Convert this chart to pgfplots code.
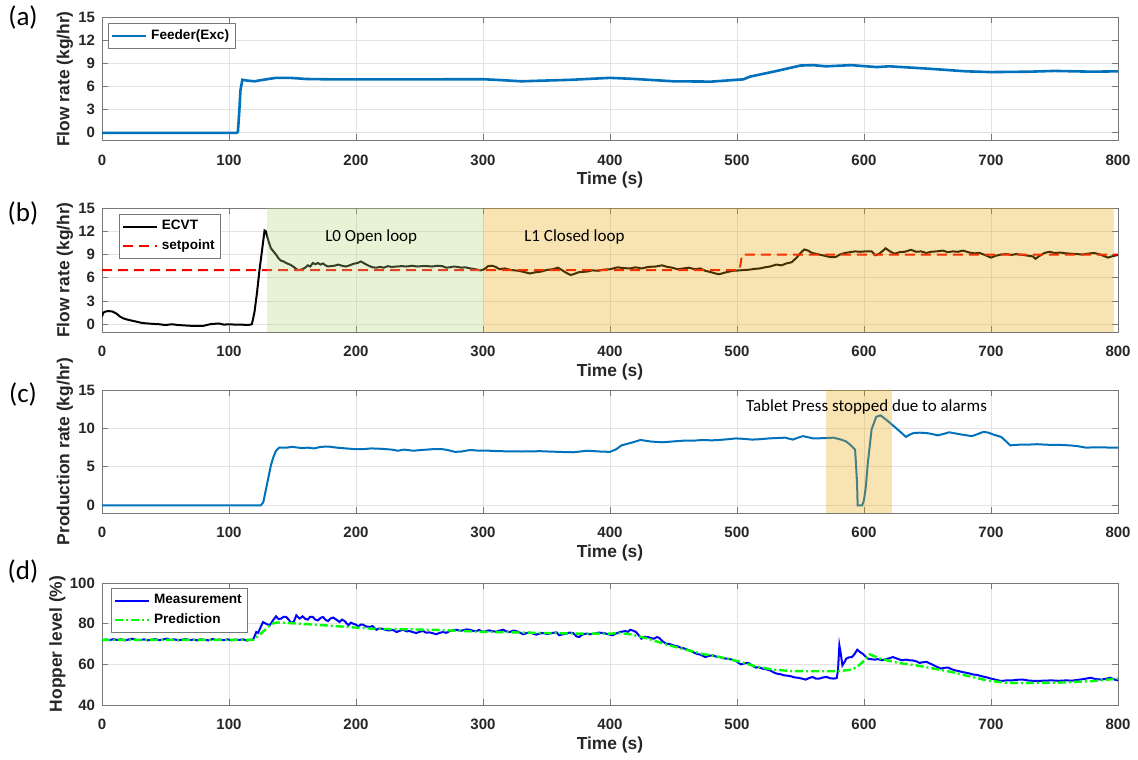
\documentclass[border=0pt]{standalone}
\usepackage{fontspec}
\setmainfont{Liberation Sans}
\newfontfamily\calfont{Carlito}
\usepackage{pgfplots}
\pgfplotsset{compat=1.18}

\definecolor{mblue}{RGB}{0,114,189}
\definecolor{pgreen}{RGB}{180,215,120}
\definecolor{porange}{RGB}{232,162,0}
\definecolor{axgray}{RGB}{120,120,120}
\definecolor{tickc}{RGB}{38,38,38}

\pgfplotsset{
 panel/.style={
  scale only axis, width=508pt, xmin=0, xmax=800,
  xtick={0,100,...,800},
  tick align=inside, major tick length=3pt,
  grid=major, grid style={gray!22, line width=0.4pt},
  axis line style={axgray, line width=0.5pt},
  every tick/.style={axgray, line width=0.5pt},
  tick label style={font=\fontsize{7.5}{8.5}\selectfont\bfseries, text=tickc},
  /pgf/number format/assume math mode=true,
  xlabel={Time (s)},
  every axis x label/.style={at={(axis description cs:0.5,0)}, anchor=center, yshift=-20pt, font=\fontsize{8.7}{10}\selectfont\bfseries, text=tickc},
  every axis y label/.style={at={(axis description cs:-0.0364,0.5)}, anchor=center, rotate=90, font=\fontsize{8.7}{10}\selectfont\bfseries, text=tickc},
  xticklabel style={yshift=-3.5pt},
  legend cell align=left,
  legend style={draw=axgray, fill=white, font=\fontsize{6.8}{8}\selectfont\bfseries, inner sep=1pt, row sep=-0.5pt, anchor=north west},
 },
}

\begin{document}
\begin{tikzpicture}
\useasboundingbox (0,0) rectangle (569pt,-379.5pt);

\node[font=\calfont\fontsize{13.5}{15}\selectfont] at (11.5pt,-9pt) {(a)};
\node[font=\calfont\fontsize{13.5}{15}\selectfont] at (11.5pt,-106.5pt) {(b)};
\node[font=\calfont\fontsize{13.5}{15}\selectfont] at (11.5pt,-197pt) {(c)};
\node[font=\calfont\fontsize{13.5}{15}\selectfont] at (11.5pt,-285.5pt) {(d)};

% ---------------- (a)
\begin{axis}[panel, at={(51pt,-8.75pt)}, anchor=north west, height=61.5pt,
  ymin=-1, ymax=15, ytick={0,3,...,15}, ylabel={Flow rate (kg/hr)},
  legend style={at={(0.006,0.955)}}]
\addplot[mblue, line width=1.3pt] table {
0 0
106 0
107 0.1
108 2.5
109 5.5
110.5 6.9
114 6.8
120 6.7
127 6.9
137 7.15
148 7.15
161 7.0
182 6.95
234 6.95
300 6.97
315 6.85
330 6.7
350 6.8
370 6.9
400 7.15
420 7.0
450 6.7
480 6.66
500 6.9
505 6.95
510 7.3
530 8.0
550 8.75
560 8.8
570 8.65
590 8.8
610 8.55
620 8.65
650 8.35
680 8.0
700 7.9
730 7.95
750 8.05
780 7.95
800 8.0
};
\addlegendentry{Feeder(Exc)}
\end{axis}

% ---------------- (b)
\begin{axis}[panel, at={(51pt,-104pt)}, anchor=north west, height=62pt,
  ymin=-1, ymax=15, ytick={0,3,...,15}, ylabel={Flow rate (kg/hr)},
  legend style={at={(0.017,0.952)}}]
\addplot[black, line width=1pt] table {
0 1.0
1 1.5
3 1.65
5 1.7
8 1.65
10 1.5
12 1.3
14 1.0
17 0.75
20 0.6
24 0.45
28 0.3
32 0.15
36 0.1
40 0.05
45 0.0
50 -0.1
55 0.0
60 -0.1
65 -0.15
70 -0.2
75 -0.2
80 -0.2
85 0.0
88 0.05
92 0.1
96 -0.05
100 0.0
105 -0.05
110 -0.05
115 -0.1
118 0.0
120 1.5
122 4.0
124 7.0
126 9.5
128 12.1
129 12.0
131 10.8
133 9.8
135 9.4
137 9.0
139 8.5
141 8.2
143 8.1
145 7.9
148 7.7
151 7.4
154 7.0
157 7.05
160 7.3
162 7.6
164 7.45
166 7.9
168 7.75
170 7.9
172 7.7
174 7.85
176 7.6
178 7.45
180 7.5
183 7.55
186 7.7
189 7.55
192 7.45
195 7.6
198 7.8
201 7.9
204 8.1
207 7.8
210 7.55
213 7.35
216 7.3
219 7.4
222 7.3
225 7.5
228 7.4
232 7.45
236 7.5
240 7.45
244 7.55
248 7.45
252 7.5
256 7.5
260 7.45
264 7.55
268 7.5
271 7.3
274 7.35
277 7.45
280 7.4
283 7.3
286 7.35
290 7.2
294 7.1
298 6.95
301 7.1
304 7.5
307 7.55
310 7.4
313 7.1
317 7.2
322 7.0
328 6.9
332 6.75
337 6.55
341 6.7
346 6.8
350 7.0
355 7.1
359 7.3
363 6.9
366 6.6
369 6.35
372 6.5
375 6.7
378 6.75
382 6.8
386 6.95
391 6.9
395 7.05
400 7.1
406 7.35
410 7.25
416 7.2
420 7.35
425 7.2
430 7.4
436 7.45
441 7.6
445 7.4
449 7.3
453 7.1
458 7.2
462 7.3
467 7.1
471 7.2
475 6.9
480 6.7
483 6.55
486 6.45
490 6.65
494 6.8
497 6.9
502 6.95
506 7.0
510 7.05
514 7.15
518 7.2
522 7.35
526 7.45
531 7.7
535 7.6
539 7.85
543 8.0
547 8.6
550 9.2
553 9.65
556 9.5
559 9.2
562 9.1
566 8.95
570 8.8
574 8.65
578 8.7
581 9.0
585 9.2
589 9.3
593 9.4
597 9.35
601 9.4
606 9.4
609 8.9
612 9.1
615 9.5
617 9.8
620 9.45
624 9.1
628 9.3
632 9.35
637 9.6
641 9.35
645 9.4
649 9.2
653 9.35
657 9.4
662 9.5
666 9.3
670 9.4
674 9.35
678 9.5
683 9.25
687 9.15
691 9.2
695 8.95
700 8.6
704 8.85
708 9.0
712 9.05
716 8.95
720 9.05
725 8.95
729 8.85
733 8.75
735 8.45
738 8.8
742 9.2
746 9.35
750 9.2
755 9.25
759 9.15
763 9.1
768 9.05
772 9.0
776 9.1
781 9.2
785 9.05
789 8.8
792 8.6
796 8.8
800 8.95
};
\addlegendentry{ECVT}
\addplot[red, line width=1pt, dash pattern=on 5pt off 3pt] coordinates {(0,7) (502,7) (504,9) (800,9)};
\addlegendentry{setpoint}
\addplot[draw=none, fill=pgreen, fill opacity=0.3, forget plot] coordinates {(130,-1) (300,-1) (300,15) (130,15)} -- cycle;
\addplot[draw=none, fill=porange, fill opacity=0.3, forget plot] coordinates {(300,-1) (797,-1) (797,15) (300,15)} -- cycle;
\node[font=\calfont\fontsize{8.5}{10}\selectfont] at (axis cs:212,11.25) {L0 Open loop};
\node[font=\calfont\fontsize{8.5}{10}\selectfont] at (axis cs:372,11.25) {L1 Closed loop};
\end{axis}

% ---------------- (c)
\begin{axis}[panel, at={(51pt,-195pt)}, anchor=north west, height=61.5pt,
  ymin=-1, ymax=15, ytick={0,5,10,15}, ylabel={Production rate (kg/hr)}]
\addplot[mblue, line width=1pt] table {
0 0
125 0
127 0.4
130 2.8
133 5.2
135 6.3
137 7.1
139.5 7.5
145 7.5
150 7.6
157 7.45
162 7.5
167 7.4
172 7.6
178 7.65
185 7.5
192 7.4
200 7.3
205 7.3
212 7.4
220 7.35
228 7.25
233 7.1
238 7.25
245 7.1
252 7.2
260 7.3
268 7.3
272 7.2
278 6.95
283 7.0
290 7.2
297 7.1
305 7.1
313 7.04
330 7.0
345 7.04
360 6.95
371 6.9
382 7.1
392 7.0
400 6.95
405 7.3
409 7.8
416 8.1
424 8.5
432 8.3
441 8.2
449 8.3
457 8.4
465 8.4
473 8.5
480 8.45
486 8.5
493 8.6
499 8.7
505 8.65
512 8.55
518 8.6
525 8.7
531 8.75
538 8.8
544 8.55
548 8.8
552 9.0
556 8.85
560 8.7
565 8.72
570 8.75
576 8.8
582 8.55
586 8.3
589 7.9
593 7.25
594.5 3.0
595 0
598.6 0
600 0.7
601.5 2.5
603 5.5
606 9.9
609.6 11.5
613 11.7
617 11.2
622 10.5
628 9.65
633 8.9
636 9.2
639 9.4
644 9.45
649 9.4
653 9.3
658 9.1
663 9.3
667 9.5
672 9.35
677 9.2
681 9.1
685 9.0
690 9.3
694 9.55
698 9.45
702 9.2
708 8.9
712 8.3
715 7.8
719 7.85
723 7.9
730 7.9
736 7.95
742 7.9
749 7.85
755 7.85
762 7.8
768 7.7
775 7.5
782 7.55
788 7.55
794 7.5
800 7.5
};
\addplot[draw=none, fill=porange, fill opacity=0.3, forget plot] coordinates {(570,-1) (622,-1) (622,15) (570,15)} -- cycle;
\node[font=\calfont\fontsize{8.5}{10}\selectfont] at (axis cs:602,12.8) {Tablet Press stopped due to alarms};
\end{axis}

% ---------------- (d)
\begin{axis}[panel, at={(51pt,-291.5pt)}, anchor=north west, height=61pt,
  ymin=40, ymax=100, ytick={40,60,80,100}, ylabel={Hopper level (\%)},
  every axis y label/.style={at={(axis description cs:-0.044,0.5)}, anchor=center, rotate=90, font=\fontsize{8.7}{10}\selectfont\bfseries, text=tickc},
  legend style={at={(0.009,0.959)}}]
\addplot[blue, line width=1pt] table {
0 71.8
3 72.2
6 71.9
9 72.4
12 72.0
15 72.3
18 71.8
21 72.2
24 72.6
27 72.0
30 71.9
33 72.3
36 71.8
39 72.1
42 72.4
45 71.9
48 72.2
51 72.6
54 72.0
57 72.3
60 71.8
63 72.1
66 72.4
69 71.9
72 72.2
75 71.8
78 72.3
81 72.0
84 71.8
87 72.4
90 72.0
93 72.2
96 71.9
99 72.3
102 71.8
105 72.2
108 72.0
111 72.3
114 71.7
117 72.1
119 72.1
121.5 75.9
123 75.5
124 77
126.8 80.8
129 80
132 79.2
134.6 81.6
137 83.6
139 82.3
141 82.5
143 83.4
145 83.3
147 82.0
149 80.3
151 81.0
153 84.1
155.6 82.5
158 83.6
160 82.4
162 82
164 83.4
166 83.3
168 82.0
170 81.6
172 82.8
174 83.3
176 81.9
178 81.3
180 82.6
182 83
185 81.8
187 80.8
189 82.0
191 81.3
194 79.2
196 80.5
197.6 80
200 79.5
201.6 78.7
204 79.6
205.5 79.5
208 78.6
211 78.4
213 78.8
216 77
218 77.6
221 77.5
224 76.8
226.5 76.7
229 76.9
232 75.9
234 76.4
237 77
240 76.2
242 76.4
245 75.8
247.5 75.4
250 76.0
253 76.4
255 75.6
258 75.7
261 75.2
263 74.8
266 75.5
268.5 75.9
271 75.5
274 76.4
277 76.8
279 77
282 76.5
284 76.7
287 77.2
289.5 77
292 76.5
295 76.4
297 76.9
300 75.9
303 76.5
305 76.7
308 76.2
310.5 76.1
313 76.6
316 77
318 76.3
321 75.9
324 76.6
326 76.4
329 75.6
331.5 74.8
334 75.3
337 75.6
340 75.0
342 74.6
345 75.2
347 75.4
350 75.0
352.5 75.1
355 75.5
358 75.7
360 74.3
363 74.8
365.7 75.1
368 75.6
371 75.4
373.5 73.8
375.6 73.4
378 74.6
381 75.1
384 74.8
388 75.1
391 75.6
395 75.4
398 74.9
402 74.3
405 75.2
408 75.9
412 76.4
414 76.0
416 77
418 76.6
420.5 75.9
423 74.0
424.7 72.6
427 73.5
430 73.4
432 73.0
434.5 72.6
437 73.4
438.8 73
441 71.5
444 70.2
447 70.0
450 69.3
453 68.9
455.6 68.2
458 67.9
461 67.2
464 66.5
468 65.2
471 64.8
475 63.6
478 64.2
481 64.4
484 63.7
486.5 63.6
489 63.0
492 62.8
495 62.5
497.8 62
500 61.3
503 60
506 60.5
509 60.7
512 59.4
514.6 58.4
517 58.6
520 57.9
523 57.6
526 57
529 56.0
531.5 55.4
534 55.2
537 54.6
540 54.4
542.7 54.1
545 53.6
548 53.4
551 53.0
554 52.5
557 53.3
559.5 53.8
562 53.0
565 53
568 53.6
570.8 53.8
573 53.2
576 53
578.5 53.2
579.5 57
580.6 69.3
582 64
583 59.5
585 61.5
586 62.8
588 63.4
590.5 63.6
592.5 65.0
594.7 67.2
597 66.0
599 65.2
601 64.0
603 62.8
606 62.5
608.7 62.3
611 62.6
614 62
617 62.5
620 63.0
622.7 63.6
626 62.8
629.8 62
633 62.3
636 62.0
638 62
641 61.5
643.8 60.7
646 61.0
649.4 61.2
652 60.4
655 59.5
658 58.6
660.7 57.9
663 58.3
666.3 58.4
669 57.6
672 57
675 56.6
677.5 56.2
681 55.8
683 55.5
686 55
689 54.8
693 54.1
696 53.7
700 53
704 52.4
708 51.8
712 52.1
716.8 52.1
720 52.4
725 52.5
730 52.0
736.5 51.8
742 52.0
748 52.1
753 51.9
759 52.1
764 52.0
770 52.5
774 52.9
778.6 53.4
782 52.8
787 52.5
791 53.0
794 53.4
797 52.6
800 52.1
};
\addlegendentry{Measurement}
\addplot[green, line width=1.2pt, dash pattern=on 4pt off 1.5pt on 1pt off 1.5pt] table {
0 72
119 72
125 75
130 78
134 80
138 80.6
145 80.4
175 79.2
213 77.5
260 77
300 76
376 75.1
400 75.1
408 75.4
416 74.8
430 72.6
444 69.8
472 65.2
486.5 63.6
500.6 61.6
514.6 59
528.6 57.4
542.7 56.7
556.7 56.6
579 56.6
590.5 57.4
595 59
599 61.2
604.5 64.9
613 62.8
627 60.7
641 59.5
655 57.9
669 56.2
683 54.1
697 52.1
711 51
725 50.8
753 51
781 51.8
800 53
};
\addlegendentry{Prediction}
\end{axis}
\end{tikzpicture}
\end{document}
